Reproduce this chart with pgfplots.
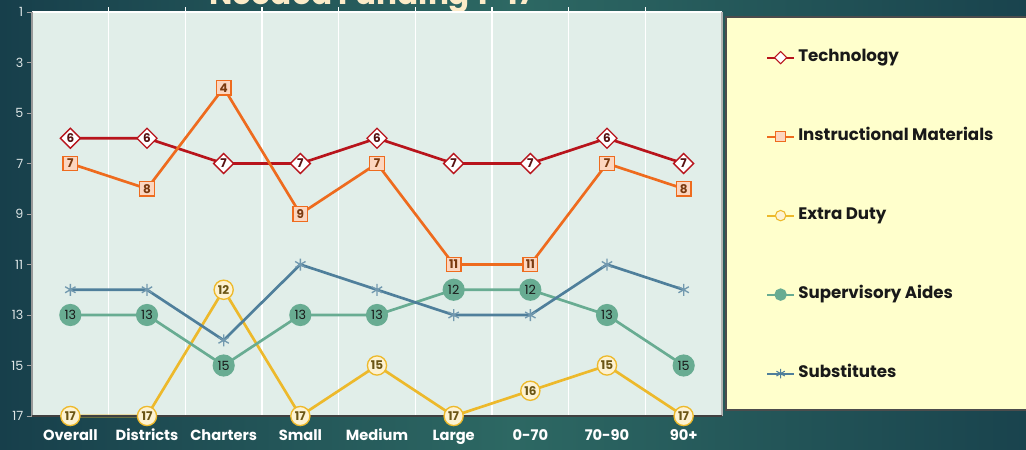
\documentclass[border=0pt]{standalone}
\usepackage{pgfplots}
\pgfplotsset{compat=1.18}
\usepackage{fontspec}
\setmainfont{Poppins}
\usetikzlibrary{plotmarks}
\definecolor{bgA}{HTML}{173F4B}
\definecolor{bgB}{HTML}{2D6863}
\definecolor{plotbg}{HTML}{E1EEE9}
\definecolor{techc}{HTML}{B8141C}
\definecolor{techt}{HTML}{5A1212}
\definecolor{instc}{HTML}{EE6B1E}
\definecolor{instf}{HTML}{FCD6C0}
\definecolor{instt}{HTML}{7A3A10}
\definecolor{extc}{HTML}{EDB92B}
\definecolor{extf}{HTML}{FDF2D2}
\definecolor{extt}{HTML}{6B5514}
\definecolor{supc}{HTML}{68AC92}
\definecolor{subc}{HTML}{4F7F9B}
\definecolor{legbg}{HTML}{FFFFCC}
\definecolor{ticklab}{HTML}{DDE5E5}
\definecolor{titlec}{HTML}{FCEBC8}
\begin{document}
\begin{tikzpicture}
\clip (0,0) rectangle (769.5pt,337.5pt);
\shade[left color=bgA, right color=bgA!90!bgB, middle color=bgB] (0,0) rectangle (769.5pt,337.5pt);
\node[anchor=base, text=titlec, inner sep=0pt] at (279pt,333.75pt) {\resizebox{244pt}{!}{\bfseries Needed Funding 1-17}};
\filldraw[fill=legbg, draw=black!70, line width=1pt] (544.5pt,30pt) rectangle (790pt,324.75pt);
\begin{axis}[
  at={(24pt,25.5pt)}, anchor=south west,
  scale only axis, width=517.5pt, height=303pt,
  xmin=-0.5, xmax=8.5, ymin=1, ymax=17, y dir=reverse,
  axis background/.style={fill=plotbg},
  xtick={0,...,8},
  xticklabels={Overall,Districts,Charters,Small,Medium,Large,0-70,70-90,90+},
  ytick={1,3,...,17},
  minor xtick={0.5,1.5,...,7.5},
  xminorgrids, minor x grid style={white, line width=0.8pt},
  major x tick style={draw=none}, minor tick length=0pt,
  ytick pos=left, tick align=outside, major tick length=4pt,
  y tick style={gray!70, line width=0.6pt},
  axis line style={draw=none},
  x tick label style={font=\bfseries\fontsize{11}{11}\selectfont, text=white, text height=8.5pt, text depth=2.5pt, yshift=-2pt},
  y tick label style={font=\fontsize{9.5}{9.5}\selectfont, text=ticklab, xshift=1pt},
  /pgf/number format/assume math mode=true,
  clip=false,
  legend style={at={(1.0638,0.9076)}, anchor=north west, draw=none, fill=none,
    font=\bfseries\fontsize{12.5}{12.5}\selectfont, text=black!90, row sep=47.25pt,
    inner sep=0pt, nodes={inner sep=0pt, text height=9pt, text depth=3pt},
    /tikz/every odd column/.append style={column sep=2.5pt}},
  legend cell align=left,
  legend image code/.code={\draw[mark repeat=2,mark phase=2,#1] plot coordinates {(0pt,0pt) (10pt,0pt) (20pt,0pt)};},
  point meta=y,
  nodes near coords={\pgfmathprintnumber{\pgfplotspointmeta}},
  nodes near coords align={center},
]
\addlegendimage{techc, line width=1.5pt, mark=square*, mark size=3.2pt, mark options={rotate=45, fill=white, draw=techc, line width=0.8pt}}
\addlegendentry{Technology}
\addlegendimage{instc, line width=1.5pt, mark=square*, mark size=3.6pt, mark options={fill=instf, draw=instc, line width=0.8pt}}
\addlegendentry{Instructional Materials}
\addlegendimage{extc, line width=1.5pt, mark=*, mark size=3.9pt, mark options={fill=extf, draw=extc, line width=0.8pt}}
\addlegendentry{Extra Duty}
\addlegendimage{supc, line width=1.5pt, mark=*, mark size=3.9pt, mark options={fill=supc, draw=supc}}
\addlegendentry{Supervisory Aides}
\addlegendimage{subc, line width=1.5pt, mark=asterisk, mark size=3.6pt, mark options={draw=subc, line width=0.8pt}}
\addlegendentry{Substitutes}

\pgfplotsinvokeforeach{0.5,1.5,2.5,3.5,4.5,5.5,6.5,7.5}{
  \draw[white, line width=0.8pt] (axis cs:#1,1) -- ([yshift=4pt]axis cs:#1,1);
}
\addplot[forget plot, techc, line width=2pt, mark=square*, mark size=5.3pt,
  mark options={rotate=45, fill=white, draw=techc, line width=1pt},
  every node near coord/.style={anchor=center, inner sep=0pt, font=\bfseries\fontsize{9}{9}\selectfont, text=techt}]
  coordinates {(0,6) (1,6) (2,7) (3,7) (4,6) (5,7) (6,7) (7,6) (8,7)};
\addplot[forget plot, instc, line width=2pt, mark=square*, mark size=5.4pt,
  mark options={fill=instf, draw=instc, line width=1pt},
  every node near coord/.style={anchor=center, inner sep=0pt, font=\bfseries\fontsize{9}{9}\selectfont, text=instt}]
  coordinates {(0,7) (1,8) (2,4) (3,9) (4,7) (5,11) (6,11) (7,7) (8,8)};
\addplot[forget plot, extc, line width=2pt, mark=*, mark size=7.2pt,
  mark options={fill=extf, draw=extc, line width=1pt},
  every node near coord/.style={anchor=center, inner sep=0pt, font=\bfseries\fontsize{9}{9}\selectfont, text=extt}]
  coordinates {(0,17) (1,17) (2,12) (3,17) (4,15) (5,17) (6,16) (7,15) (8,17)};
\addplot[forget plot, supc, line width=2pt, mark=*, mark size=7.3pt,
  mark options={fill=supc, draw=supc},
  every node near coord/.style={anchor=center, inner sep=0pt, font=\fontsize{9.5}{9.5}\selectfont, text=black!90}]
  coordinates {(0,13) (1,13) (2,15) (3,13) (4,13) (5,12) (6,12) (7,13) (8,15)};
\addplot[forget plot, subc, line width=2pt, mark=asterisk, mark size=4.5pt,
  mark options={draw=subc!80!white, line width=1pt}, nodes near coords={}]
  coordinates {(0,12) (1,12) (2,14) (3,11) (4,12) (5,13) (6,13) (7,11) (8,12)};
\draw[white, line width=1pt] (axis description cs:0,1) -- (axis description cs:1,1);
\draw[gray!80, line width=0.8pt] (axis description cs:0,0) -- (axis description cs:0,1);
\draw[gray!60, line width=0.8pt] (axis description cs:1,0) -- (axis description cs:1,1);
\draw[black!75, line width=1.2pt] (axis description cs:0,0) -- (axis description cs:1,0);
\end{axis}
\end{tikzpicture}
\end{document}
